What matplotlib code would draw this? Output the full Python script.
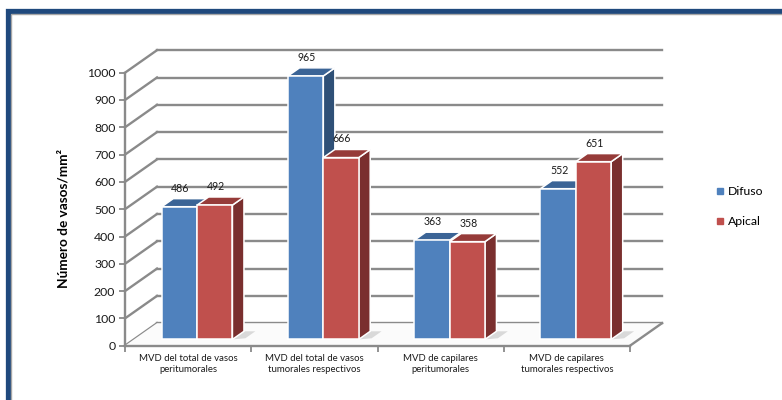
import matplotlib
matplotlib.use("Agg")
import matplotlib.pyplot as plt
from matplotlib.patches import Polygon, Rectangle
from matplotlib.lines import Line2D

plt.rcParams['font.family'] = ['Lato', 'DejaVu Sans']

# ---- data ----
categories = [
    "MVD del total de vasos\nperitumorales",
    "MVD del total de vasos\ntumorales respectivos",
    "MVD de capilares\nperitumorales",
    "MVD de capilares\ntumorales respectivos",
]
series_names = ["Difuso", "Apical"]
difuso = [486, 965, 363, 552]
apical = [492, 666, 358, 651]
y_ticks = [0, 100, 200, 300, 400, 500, 600, 700, 800, 900, 1000]

# ---- style ----
face_cols = ["#4F81BD", "#C0504D"]
top_cols = ["#3B6496", "#963B39"]
side_cols = ["#2F5077", "#7A2F2E"]
grid_col = "#8A8A8A"
frame_col = "#1F497D"

W, H, DPI = 782, 400, 100
fig = plt.figure(figsize=(W / DPI, H / DPI), dpi=DPI)
fig.patch.set_facecolor("white")

# outer frame
fig.patches.append(Rectangle((7.5 / W, -0.1), 1.2, (H - 10.5) / H + 0.1,
                             transform=fig.transFigure, fill=False,
                             edgecolor=frame_col, lw=3.8, zorder=0))
fig.patches.append(Rectangle((10.8 / W, -0.1), 1.2, (H - 13.8) / H + 0.1,
                             transform=fig.transFigure, fill=False,
                             edgecolor="#A6A6A6", lw=1.0, zorder=0))

# front plane of the plot: x in category units, y in value units
x0, x1 = 125, 630
yb, yt = 345.7, 72.7
ax = fig.add_axes([x0 / W, (H - yb) / H, (x1 - x0) / W, (yb - yt) / H])
ax.set_xlim(0, 4)
ax.set_ylim(0, 1000)
ax.patch.set_alpha(0)
for s in ["top", "right", "bottom"]:
    ax.spines[s].set_visible(False)
ax.spines["left"].set_color(grid_col)
ax.spines["left"].set_linewidth(1.7)

# depth of the box (floor) in data units
px_x = 4 / (x1 - x0)
px_y = 1000 / (yb - yt)
DX = 32 * px_x
DY = 22.5 * px_y


def proj(x, v, f):
    return (x + f * DX, v + f * DY)


# back wall and side wall gridlines
for v in y_ticks:
    bx0, by = proj(0, v, 1)
    bx1, _ = proj(4, v, 1)
    ax.add_line(Line2D([bx0, bx1], [by, by], color=grid_col, lw=1.7,
                       clip_on=False, zorder=1))
    ax.add_line(Line2D([0, bx0], [v, by], color=grid_col, lw=1.7,
                       clip_on=False, zorder=1))

# floor
floor = [proj(0, 0, 0), proj(4, 0, 0), proj(4, 0, 1), proj(0, 0, 1)]
ax.add_patch(Polygon(floor, closed=True, facecolor="#FBFBFB",
                     edgecolor="none", clip_on=False, zorder=1.5))
ax.add_line(Line2D([0, 4], [0, 0], color=grid_col, lw=1.7,
                   clip_on=False, zorder=2))
fx, fy = zip(proj(4, 0, 0), proj(4, 0, 1))
ax.add_line(Line2D(fx, fy, color=grid_col, lw=1.7, clip_on=False, zorder=2))

# 3D bars
bar_w = 0.28
f0, f1 = 0.28, 0.64
z = 3
for i in range(len(categories)):
    for s, vals in enumerate([difuso, apical]):
        v = vals[i]
        left = i + 0.22 + s * bar_w
        right = left + bar_w
        # floor shadow
        sh = [proj(right, 0, f0), proj(right + 0.09, 0, f0 + 0.05),
              proj(right + 0.09, 0, f1), proj(right, 0, f1)]
        ax.add_patch(Polygon(sh, closed=True, facecolor="#D9D9D9",
                             edgecolor="none", clip_on=False, zorder=z))
        front = [proj(left, 0, f0), proj(right, 0, f0),
                 proj(right, v, f0), proj(left, v, f0)]
        top = [proj(left, v, f0), proj(right, v, f0),
               proj(right, v, f1), proj(left, v, f1)]
        side = [proj(right, 0, f0), proj(right, 0, f1),
                proj(right, v, f1), proj(right, v, f0)]
        for poly, col in ((side, side_cols[s]), (top, top_cols[s]),
                          (front, face_cols[s])):
            ax.add_patch(Polygon(poly, closed=True, facecolor=col,
                                 edgecolor="white", lw=1.1, joinstyle="miter",
                                 clip_on=False, zorder=z))
        z += 0.01
        lx, _ = proj((left + right) / 2, v, f0)
        _, ly = proj(left, v, f1)
        ax.annotate(str(v), xy=(lx, ly), xytext=(0.7, 7.6),
                    textcoords="offset points", ha="center", va="center",
                    fontsize=7.6, color="#1a1a1a",
                    annotation_clip=False, zorder=10)

# axes ticks and labels
ax.set_yticks(y_ticks)
ax.set_yticklabels([str(t) for t in y_ticks], fontsize=8.8, color="#1a1a1a")
ax.tick_params(axis="y", length=4, width=1.3, color=grid_col, pad=3)
ax.set_xticks([0.5, 1.5, 2.5, 3.5])
ax.set_xticklabels(categories, fontsize=6.9, color="#1a1a1a", linespacing=1.3)
ax.set_xticks([0, 1, 2, 3, 4], minor=True)
ax.tick_params(axis="x", which="major", length=0, pad=6)
ax.tick_params(axis="x", which="minor", length=4, width=1.3, color=grid_col)
ax.set_ylabel("Número de vasos/mm²", fontsize=9.8, fontweight="bold",
              color="black")
ax.yaxis.set_label_coords(-56 / (x1 - x0), 0.465)

# legend
handles = [Line2D([], [], marker="s", linestyle="none", markersize=4.2,
                  markerfacecolor=c, markeredgecolor=c) for c in face_cols]
fig.legend(handles, series_names, loc="center left",
           bbox_to_anchor=(703 / W, 1 - 206.5 / H), frameon=False,
           fontsize=8.8, handletextpad=0.15, labelspacing=1.55,
           handlelength=1.0)

fig.savefig("out.png", dpi=DPI, facecolor="white")
